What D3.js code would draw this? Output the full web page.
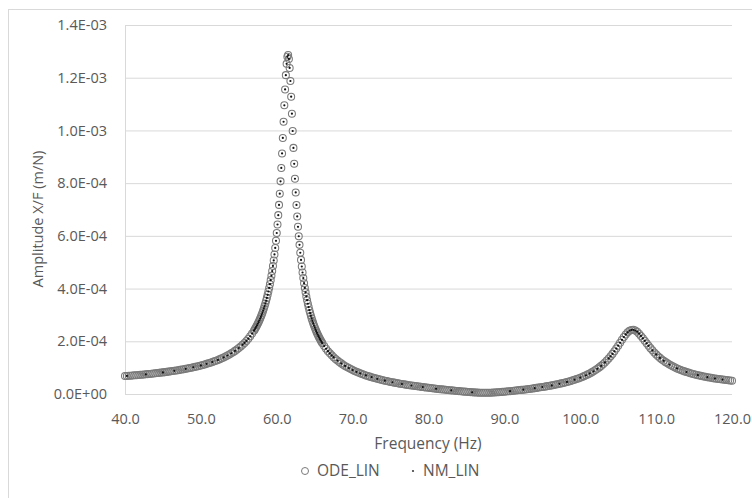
<!DOCTYPE html>
<html>
<head>
<meta charset="utf-8">
<script src="https://cdn.jsdelivr.net/npm/d3@7"></script>
<style>
  body { margin: 0; background: #fff; }
  svg { display: block; font-family: "Open Sans", sans-serif; }
</style>
</head>
<body>
<div id="chart"></div>
<script>
// amplitudes are in 1e-5 m/N

// ODE_LIN, 40.00 .. 56.75 Hz every 0.25 Hz
odeLow = [
  6.80, 6.85, 6.91, 6.96,
  7.02, 7.08, 7.14, 7.21,
  7.27, 7.34, 7.41, 7.48,
  7.55, 7.62, 7.70, 7.78,
  7.86, 7.94, 8.02, 8.11,
  8.20, 8.29, 8.39, 8.49,
  8.59, 8.70, 8.81, 8.92,
  9.04, 9.16, 9.28, 9.41,
  9.55, 9.69, 9.83, 9.98,
  10.14, 10.30, 10.47, 10.65,
  10.83, 11.02, 11.22, 11.43,
  11.65, 11.88, 12.12, 12.38,
  12.65, 12.93, 13.23, 13.54,
  13.87, 14.22, 14.60, 15.00,
  15.42, 15.87, 16.36, 16.88,
  17.43, 18.02, 18.66, 19.37,
  20.14, 20.98, 21.90, 22.91
]

// ODE_LIN, 57.0 .. 66.0 Hz every 0.1 Hz
odePeak = [
  24.02, 24.50, 25.01, 25.53, 26.08, 26.65, 27.26, 27.89, 28.55, 29.25,
  29.99, 30.76, 31.58, 32.45, 33.36, 34.34, 35.37, 36.47, 37.64, 38.89,
  40.23, 41.66, 43.20, 44.86, 46.65, 48.58, 50.67, 52.95, 55.42, 58.12,
  61.08, 64.31, 67.86, 71.75, 76.01, 80.68, 85.77, 91.27, 97.14, 103.29,
  109.52, 115.56, 120.98, 125.26, 127.94, 128.60, 127.12, 123.72, 118.76, 112.81,
  106.35, 99.78, 93.38, 87.32, 81.67, 76.47, 71.72, 67.38, 63.44, 59.85,
  56.58, 53.60, 50.88, 48.38, 46.09, 43.98, 42.03, 40.24, 38.57, 37.02,
  35.58, 34.24, 32.98, 31.80, 30.70, 29.66, 28.69, 27.76, 26.89, 26.07,
  25.29, 24.55, 23.85, 23.19, 22.55, 21.95, 21.37, 20.82, 20.29, 19.79,
  19.30
]

// ODE_LIN, 66.25 .. 120.00 Hz every 0.25 Hz
odeHigh = [
  18.18, 17.17, 16.25,
  15.42, 14.66, 13.96, 13.30,
  12.68, 12.13, 11.61, 11.12,
  10.65, 10.24, 9.84, 9.45,
  9.08, 8.75, 8.43, 8.13,
  7.83, 7.56, 7.30, 7.05,
  6.81, 6.59, 6.37, 6.16,
  5.95, 5.76, 5.58, 5.40,
  5.22, 5.06, 4.90, 4.74,
  4.59, 4.45, 4.31, 4.17,
  4.04, 3.91, 3.79, 3.67,
  3.55, 3.44, 3.33, 3.22,
  3.11, 3.01, 2.91, 2.81,
  2.71, 2.62, 2.52, 2.43,
  2.34, 2.25, 2.17, 2.08,
  2.00, 1.92, 1.84, 1.76,
  1.68, 1.60, 1.53, 1.45,
  1.38, 1.31, 1.24, 1.17,
  1.10, 1.03, 0.97, 0.90,
  0.84, 0.78, 0.72, 0.66,
  0.61, 0.57, 0.53, 0.49,
  0.46, 0.45, 0.44, 0.45,
  0.47, 0.50, 0.54, 0.58,
  0.63, 0.69, 0.75, 0.81,
  0.87, 0.94, 1.01, 1.08,
  1.16, 1.24, 1.32, 1.40,
  1.48, 1.56, 1.65, 1.74,
  1.83, 1.92, 2.02, 2.12,
  2.22, 2.32, 2.43, 2.54,
  2.65, 2.77, 2.89, 3.01,
  3.14, 3.27, 3.41, 3.56,
  3.71, 3.87, 4.03, 4.20,
  4.38, 4.57, 4.77, 4.97,
  5.19, 5.42, 5.66, 5.91,
  6.18, 6.47, 6.78, 7.10,
  7.44, 7.81, 8.20, 8.62,
  9.08, 9.57, 10.10, 10.67,
  11.29, 11.97, 12.70, 13.49,
  14.32, 15.22, 16.21, 17.25,
  18.33, 19.45, 20.56, 21.62,
  22.59, 23.40, 23.99, 24.31,
  24.34, 24.08, 23.58, 22.88,
  22.04, 21.12, 20.17, 19.21,
  18.28, 17.40, 16.57, 15.78,
  15.03, 14.35, 13.70, 13.12,
  12.59, 12.09, 11.62, 11.18,
  10.77, 10.40, 10.04, 9.71,
  9.40, 9.12, 8.84, 8.58,
  8.34, 8.12, 7.90, 7.70,
  7.50, 7.32, 7.15, 6.98,
  6.82, 6.67, 6.53, 6.39,
  6.25, 6.13, 6.01, 5.89,
  5.78, 5.67, 5.57, 5.47,
  5.37, 5.28, 5.19, 5.10,
  5.02
]

// NM_LIN below the first peak [Hz, amp]
nmLow = [
  [40.25, 6.85], [42.75, 7.48], [45.0, 8.20], [46.5, 8.81], [48.0, 9.55],
  [49.0, 10.14], [50.0, 10.83], [50.75, 11.43], [51.5, 12.12], [52.25, 12.93],
  [53.0, 13.87], [53.5, 14.60], [54.0, 15.42], [54.5, 16.36], [55.0, 17.43],
  [55.5, 18.66], [55.75, 19.37], [56.0, 20.14], [56.25, 20.98], [56.5, 21.90],
  [56.75, 22.91]
]

// NM_LIN, 57.0 .. 66.0 Hz every 0.1 Hz
nmPeak = [
  24.02, 24.50, 25.01, 25.53, 26.08, 26.65, 27.26, 27.89, 28.55, 29.25,
  29.99, 30.76, 31.58, 32.45, 33.36, 34.34, 35.37, 36.47, 37.64, 38.89,
  40.23, 41.66, 43.20, 44.86, 46.65, 48.58, 50.67, 52.95, 55.42, 58.12,
  61.08, 64.31, 67.86, 71.75, 76.01, 80.68, 85.77, 91.27, 97.14, 103.29,
  109.52, 115.56, 120.98, 125.26, 127.94, 128.60, 127.12, 123.72, 118.76, 112.81,
  106.35, 99.78, 93.38, 87.32, 81.67, 76.47, 71.72, 67.38, 63.44, 59.85,
  56.58, 53.60, 50.88, 48.38, 46.09, 43.98, 42.03, 40.24, 38.57, 37.02,
  35.58, 34.24, 32.98, 31.80, 30.70, 29.66, 28.69, 27.76, 26.89, 26.07,
  25.29, 24.55, 23.85, 23.19, 22.55, 21.95, 21.37, 20.82, 20.29, 19.79,
  19.30
]

// NM_LIN above the first peak [Hz, amp]
nmHigh = [
  [66.25, 18.18], [66.5, 17.17], [66.75, 16.25], [67.0, 15.42], [67.25, 14.66],
  [67.5, 13.96], [68.0, 12.68], [68.5, 11.61], [69.0, 10.65], [69.5, 9.84],
  [70.0, 9.08], [70.5, 8.43], [71.0, 7.83], [71.75, 7.05], [72.5, 6.37],
  [73.25, 5.76], [74.25, 5.06], [75.25, 4.45], [76.5, 3.79], [77.75, 3.22],
  [79.25, 2.62], [81.0, 2.00], [83.0, 1.38], [85.75, 0.66], [90.75, 1.08],
  [92.5, 1.65], [94.0, 2.22], [95.0, 2.65], [96.25, 3.27], [97.25, 3.87],
  [98.25, 4.57], [99.25, 5.42], [100.0, 6.18], [100.75, 7.10], [101.25, 7.81],
  [101.75, 8.62], [102.25, 9.57], [102.75, 10.67], [103.25, 11.97], [103.75, 13.49],
  [104.0, 14.32], [104.25, 15.22], [104.5, 16.21], [104.75, 17.25], [105.0, 18.33],
  [105.25, 19.45], [105.5, 20.56], [105.75, 21.62], [106.0, 22.59], [106.25, 23.40],
  [106.5, 23.99], [106.75, 24.31], [107.0, 24.34], [107.25, 24.08], [107.5, 23.58],
  [107.75, 22.88], [108.0, 22.04], [108.25, 21.12], [108.5, 20.17], [108.75, 19.21],
  [109.0, 18.28], [109.5, 16.57], [110.0, 15.03], [110.5, 13.70], [111.0, 12.59],
  [111.75, 11.18], [112.75, 9.71], [114.0, 8.34], [115.5, 7.15], [116.75, 6.39],
  [117.75, 5.89], [118.75, 5.47]
]

xTicks = [40, 50, 60, 70, 80, 90, 100, 110, 120]
yTicks = [0, 2e-4, 4e-4, 6e-4, 8e-4, 1e-3, 1.2e-3, 1.4e-3]

//////// build the point lists
odePoints = [
  ...odeLow.map((a, i) => ({ f: 40 + i * 0.25, a: a * 1e-5 })),
  ...odePeak.map((a, i) => ({ f: 57 + i * 0.1, a: a * 1e-5 })),
  ...odeHigh.map((a, i) => ({ f: 66.25 + i * 0.25, a: a * 1e-5 }))
]
nmPoints = [
  ...nmLow.map(d => ({ f: d[0], a: d[1] * 1e-5 })),
  ...nmPeak.map((a, i) => ({ f: 57 + i * 0.1, a: a * 1e-5 })),
  ...nmHigh.map(d => ({ f: d[0], a: d[1] * 1e-5 }))
]

width = 752
height = 498
textColor = '#595959'
gridColor = '#d9d9d9'
ringColor = '#7a7a7a'

//////////  scales
xScale = d3.scaleLinear()
  .domain([40, 120])
  .range([125, 732])

yScale = d3.scaleLinear()
  .domain([0, 1.4e-3])
  .range([394, 25])

// 1.4E-03 style labels
sci = function(v) {
  parts = v.toExponential(1).split('e')
  return parts[0] + 'E' + parts[1][0] + parts[1].slice(1).padStart(2, '0')
}

/////// svg
svg = d3.select('#chart')
  .append('svg')
  .attr('width', width)
  .attr('height', height)

// chart border (runs off the right and bottom)
svg.append('rect')
  .attr('x', 8.5)
  .attr('y', 9.5)
  .attr('width', 780)
  .attr('height', 540)
  .attr('fill', 'none')
  .attr('stroke', gridColor)

// y axis + gridlines
yAxis = d3.axisLeft(yScale)
  .tickValues(yTicks)
  .tickFormat(sci)
  .tickSize(-(xScale(120) - xScale(40)))
  .tickSizeOuter(0)
  .tickPadding(18)

svg.append('g')
  .attr('transform', `translate(${xScale(40)} 0)`)
  .call(yAxis)
  .call(g => g.select('.domain').attr('stroke', gridColor))
  .call(g => g.selectAll('.tick line').attr('stroke', gridColor))
  .call(g => g.selectAll('.tick text')
    .attr('fill', textColor)
    .attr('font-size', '14.5px')
    .attr('font-family', '"Open Sans", sans-serif'))

// x axis, labels only
xAxis = d3.axisBottom(xScale)
  .tickValues(xTicks)
  .tickFormat(d3.format('.1f'))
  .tickSize(0)
  .tickPadding(20)

svg.append('g')
  .attr('transform', `translate(0 ${yScale(0)})`)
  .call(xAxis)
  .call(g => g.select('.domain').remove())
  .call(g => g.selectAll('.tick text')
    .attr('fill', textColor)
    .attr('font-size', '14.5px')
    .attr('font-family', '"Open Sans", sans-serif'))

///// draw
svg.append('g')
  .selectAll('circle')
  .data(odePoints)
  .join('circle')
  .attr('cx', d => xScale(d.f))
  .attr('cy', d => yScale(d.a))
  .attr('r', 3.5)
  .attr('fill', 'none')
  .attr('stroke', ringColor)
  .attr('stroke-width', 1.05)

svg.append('g')
  .selectAll('circle')
  .data(nmPoints)
  .join('circle')
  .attr('cx', d => xScale(d.f))
  .attr('cy', d => yScale(d.a))
  .attr('r', 1.1)
  .attr('fill', '#111')

// titles
svg.append('text')
  .attr('x', 428)
  .attr('y', 449)
  .attr('text-anchor', 'middle')
  .attr('font-size', '15.5px')
  .attr('fill', textColor)
  .text('Frequency (Hz)')

svg.append('text')
  .attr('transform', 'translate(43 219) rotate(-90)')
  .attr('text-anchor', 'middle')
  .attr('font-size', '14.5px')
  .attr('fill', textColor)
  .text('Amplitude X/F (m/N)')

// legend
legend = svg.append('g')

legend.append('circle')
  .attr('cx', 305)
  .attr('cy', 471)
  .attr('r', 3.5)
  .attr('fill', 'none')
  .attr('stroke', ringColor)
  .attr('stroke-width', 1)

legend.append('text')
  .attr('x', 317)
  .attr('y', 476)
  .attr('font-size', '15.5px')
  .attr('fill', textColor)
  .text('ODE_LIN')

legend.append('circle')
  .attr('cx', 413)
  .attr('cy', 471)
  .attr('r', 1.1)
  .attr('fill', '#404040')

legend.append('text')
  .attr('x', 423)
  .attr('y', 476)
  .attr('font-size', '15.5px')
  .attr('fill', textColor)
  .text('NM_LIN')
</script>
</body>
</html>
